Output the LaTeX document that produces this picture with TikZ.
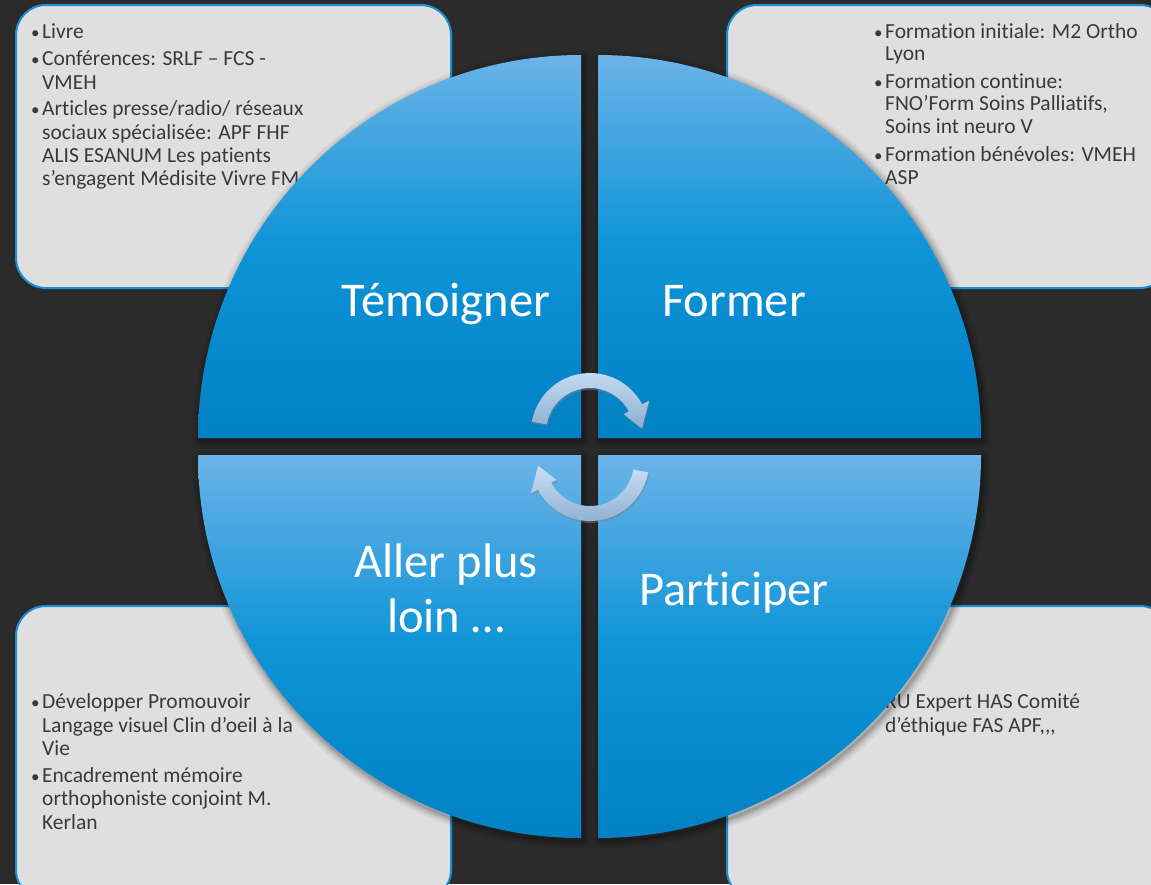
\documentclass[tikz,border=0pt]{standalone}
\usepackage{fontspec}
\setmainfont{Carlito}[Ligatures={NoCommon}]
\usetikzlibrary{shadows,calc}
\definecolor{bg}{HTML}{2B2B2B}
\definecolor{boxfill}{HTML}{DFDFDF}
\definecolor{boxline}{HTML}{1A8FD6}
\definecolor{boxtext}{HTML}{3A3A3A}
\definecolor{qtop}{HTML}{6BB3E9}
\definecolor{qmid}{HTML}{0E94D7}
\definecolor{qbot}{HTML}{0081C4}
\definecolor{atop}{HTML}{C8DEF3}
\definecolor{abot}{HTML}{8DAFD2}
\tikzset{
  infobox/.style={fill=boxfill, draw=boxline, line width=2pt, rounded corners=30pt},
  itemline/.style={anchor=base west, inner sep=0pt, text=boxtext, font=\fontsize{21.5}{23.5}\selectfont},
  title/.style={anchor=base, inner sep=0pt, text=white, font=\fontsize{48.5}{55}\selectfont},
  quadfill/.style={top color=qtop, bottom color=qbot, middle color=qmid},
  arrowfill/.style={top color=atop, bottom color=abot, drop shadow={opacity=0.45, shadow xshift=1pt, shadow yshift=-2pt}}
}
\newcommand{\bul}{\makebox[11pt][l]{\fontsize{17}{17}\selectfont•}}
\begin{document}
\begin{tikzpicture}[x=1pt,y=-1pt]
\fill[bg] (0,0) rectangle (1151,884);
\useasboundingbox (0,0) rectangle (1151,884);
\clip (0,0) rectangle (1151,884);

% boxes
\draw[infobox] (16,5) rectangle (451,288);
\draw[infobox] (727,5) rectangle (1170,288);
\draw[infobox] (16,606) rectangle (451,900);
\draw[infobox] (727,606) rectangle (1170,900);

% top-left text
\node[itemline] (tl1) at (31,38) {\bul Livre};
\node[itemline] (tl2) at (31,65) {\bul Conférences: SRLF – FCS -};
\node[itemline] (tl3) at (42,89) {VMEH};
\node[itemline] (tl4) at (31,115) {\bul Articles presse/radio/ réseaux};
\node[itemline] (tl5) at (42,139) {sociaux spécialisée: APF FHF};
\node[itemline] (tl6) at (42,162) {ALIS ESANUM Les patients};
\node[itemline] (tl7) at (42,185) {s’engagent Médisite Vivre FM};

% top-right text
\node[itemline] (tr1) at (874,38) {\bul Formation initiale: M2 Ortho};
\node[itemline] (tr2) at (885,60) {Lyon};
\node[itemline] (tr3) at (874,88) {\bul Formation continue:};
\node[itemline] (tr4) at (885,110) {FNO’Form Soins Palliatifs,};
\node[itemline] (tr5) at (885,133) {Soins int neuro V};
\node[itemline] (tr6) at (874,161) {\bul Formation bénévoles: VMEH};
\node[itemline] (tr7) at (885,184) {ASP};

% bottom-left text
\node[itemline] (bl1) at (31,708) {\bul Développer Promouvoir};
\node[itemline] (bl2) at (42,732) {Langage visuel Clin d’oeil à la};
\node[itemline] (bl3) at (42,755) {Vie};
\node[itemline] (bl4) at (31,782) {\bul Encadrement mémoire};
\node[itemline] (bl5) at (42,805) {orthophoniste conjoint M.};
\node[itemline] (bl6) at (42,829) {Kerlan};

% bottom-right text
\node[itemline] (br1) at (874,708) {\bul RU Expert HAS Comité};
\node[itemline] (br2) at (885,732) {d’éthique FAS APF,{},{},};

% quadrants with soft shadow
\foreach \cx/\cy/\s in {581/438/180, 598/438/270, 581/455/90, 598/455/0}{
  \begin{scope}[shift={(\cx+2,\cy+3)}]
    \foreach \w/\o in {16/0.05, 11/0.07, 7/0.09, 3/0.12}{
      \draw[black, opacity=\o, line width=\w pt, line join=round] (0,0) -- (\s:383) arc[start angle=\s, end angle=\s+90, radius=383] -- cycle;
    }
  \end{scope}
}
\foreach \cx/\cy/\s in {581/438/180, 598/438/270, 581/455/90, 598/455/0}{
  \begin{scope}[shift={(\cx,\cy)}]
    \path[quadfill] (0,0) -- (\s:383) arc[start angle=\s, end angle=\s+90, radius=383] -- cycle;
  \end{scope}
}

% titles
\node[title] (t1) at (446,316) {Témoigner};
\node[title] (t2) at (734,316) {Former};
\node[title] (t3) at (446,577) {Aller plus};
\node[title] (t4) at (446,632) {loin …};
\node[title] (t5) at (734,605) {Participer};

% cycle arrows
\begin{scope}[shift={(590,432)}]
  \path[arrowfill] (-170:59) arc[start angle=-170, end angle=-28, radius=59]
    -- (-28:67) -- (-4:52) -- (-28:38) -- (-28:44)
    arc[start angle=-28, end angle=-170, radius=44] -- cycle;
\end{scope}
\begin{scope}[shift={(590,462)}]
  \path[arrowfill] (10:59) arc[start angle=10, end angle=152, radius=59]
    -- (152:67) -- (176:52) -- (152:38) -- (152:44)
    arc[start angle=152, end angle=10, radius=44] -- cycle;
\end{scope}
\end{tikzpicture}
\end{document}
